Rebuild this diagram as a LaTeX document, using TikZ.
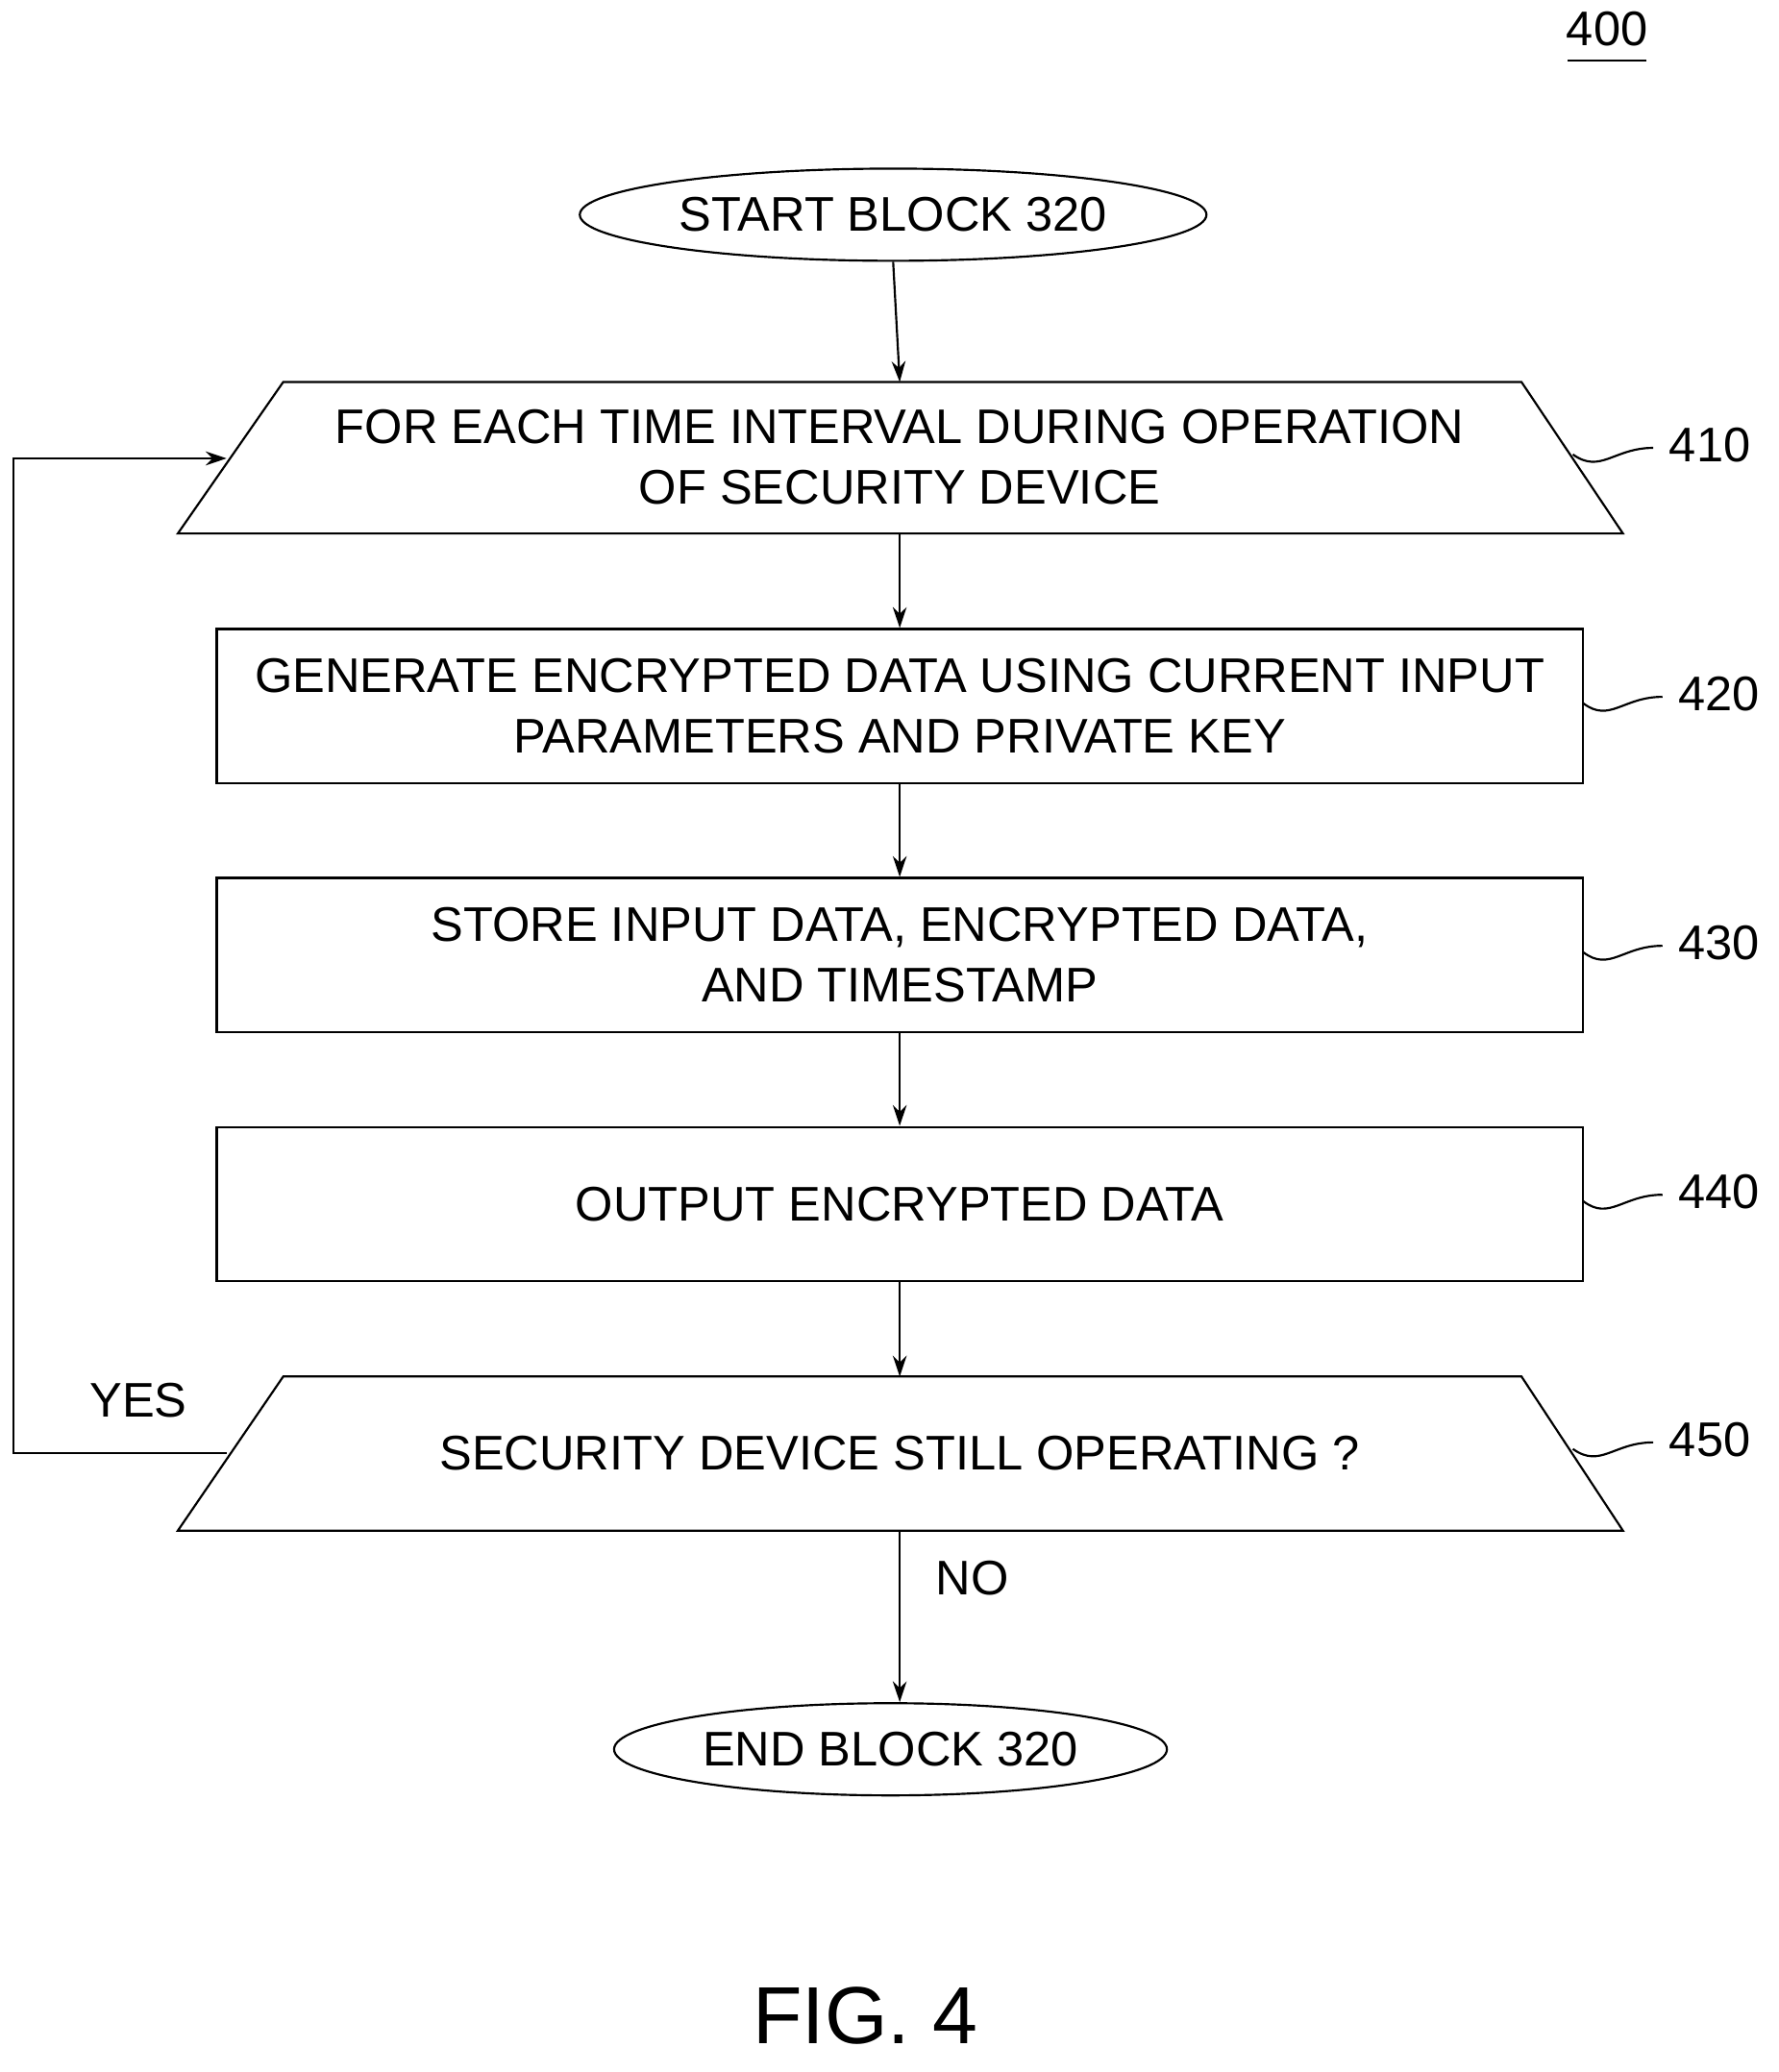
\documentclass[tikz,border=0pt]{standalone}
\usepackage{fontspec}
\setmainfont{Liberation Sans}
\usetikzlibrary{shapes.geometric,arrows.meta,decorations.pathmorphing}
\begin{document}
\begin{tikzpicture}[x=0.02cm,y=-0.02cm,
  every node/.style={font=\fontsize{21}{26}\selectfont, align=center},
  box/.style={draw, line width=0.9pt, minimum width=1037*0.02cm, minimum height=117*0.02cm, inner sep=0},
  term/.style={draw, ellipse, line width=0.9pt, minimum width=405*0.02cm, minimum height=70*0.02cm},
  trap/.style={draw, line width=0.9pt},
  arr/.style={-{Stealth[length=9pt,width=6pt]}, line width=0.9pt},
  lab/.style={font=\fontsize{21}{26}\selectfont},
  squig/.style={line width=0.9pt}]
\useasboundingbox (0,0) rectangle (1350,1573);
\node[font=\fontsize{21}{26}\selectfont] (n400) at (1220,22) {400};
\draw[line width=0.9pt] (1190,46) -- (1250,46);
\node[term] (start) at (678,163) {START BLOCK 320};
% 410
\draw[trap] (215,290) -- (1155,290) -- (1232,405) -- (135,405) -- cycle;
\node (t410) at (683,347) {FOR EACH TIME INTERVAL DURING OPERATION\\OF SECURITY DEVICE};
\coordinate (t410top) at (683,290);
\coordinate (t410bot) at (683,405);
\coordinate (t410left) at (172,348);
\node[lab] (l410) at (1298,338) {410};
\draw[squig] (1194,345) .. controls (1215,360) and (1225,340) .. (1255,340);
% boxes
\node[box] (b420) at (683,536) {GENERATE ENCRYPTED DATA USING CURRENT INPUT\\PARAMETERS AND PRIVATE KEY};
\node[lab] (l420) at (1305,527) {420};
\draw[squig] (1202,534) .. controls (1222,549) and (1232,529) .. (1262,529);
\node[box] (b430) at (683,725) {STORE INPUT DATA, ENCRYPTED DATA,\\AND TIMESTAMP};
\node[lab] (l430) at (1305,716) {430};
\draw[squig] (1202,723) .. controls (1222,738) and (1232,718) .. (1262,718);
\node[box] (b440) at (683,914) {OUTPUT ENCRYPTED DATA};
\node[lab] (l440) at (1305,905) {440};
\draw[squig] (1202,912) .. controls (1222,927) and (1232,907) .. (1262,907);
% 450
\draw[trap] (215,1045) -- (1155,1045) -- (1232,1162) -- (135,1162) -- cycle;
\node (t450) at (683,1103) {SECURITY DEVICE STILL OPERATING ?};
\coordinate (t450top) at (683,1045);
\coordinate (t450bot) at (683,1162);
\coordinate (t450left) at (172,1103);
\node[lab] (l450) at (1298,1093) {450};
\draw[squig] (1194,1100) .. controls (1215,1115) and (1225,1095) .. (1255,1095);
\node[term] (end) at (676,1328) {END BLOCK 320};
% arrows
\draw[arr] (start.south) -- (t410top);
\draw[arr] (t410bot) -- (b420.north);
\draw[arr] (b420.south) -- (b430.north);
\draw[arr] (b430.south) -- (b440.north);
\draw[arr] (b440.south) -- (t450top);
\draw[arr] (t450bot) -- (end.north -| t450bot);
\node (no) at (738,1198) {NO};
\coordinate (c1) at (10,1103);
\coordinate (c2) at (10,348);
\draw[arr] (t450left) -- (c1) -- (c2) -- (t410left);
\node (yes) at (105,1063) {YES};
\node[font=\fontsize{35}{40}\selectfont] (fig) at (657,1530) {FIG. 4};
\end{tikzpicture}
\end{document}
